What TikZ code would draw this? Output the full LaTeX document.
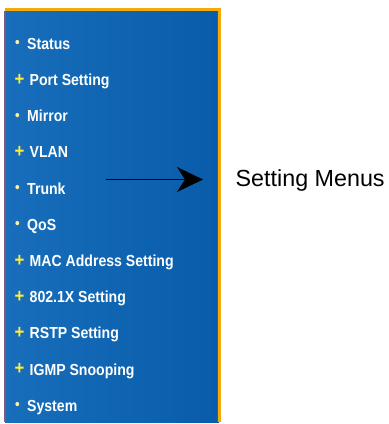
\documentclass[tikz,border=0pt]{standalone}
\usepackage{fontspec}
\setmainfont{Liberation Sans}
\newfontfamily\menufont[FakeStretch=0.88]{Liberation Sans Bold}
\usetikzlibrary{arrows.meta}
\definecolor{panelblue}{RGB}{8,92,170}
\definecolor{panelblueL}{RGB}{24,110,186}
\definecolor{edgeorange}{RGB}{245,170,10}
\definecolor{plusyellow}{RGB}{255,236,60}
\definecolor{dotyellow}{RGB}{250,240,160}
\tikzset{
  menuitem/.style={anchor=base west, inner sep=0pt, text=white, font=\menufont\fontsize{16bp}{16bp}\selectfont},
  plusmark/.style={anchor=base, inner sep=0pt, text=plusyellow, font=\menufont\fontsize{19bp}{19bp}\selectfont},
  dotmark/.style={anchor=base, inner sep=0pt, text=dotyellow, font=\menufont\fontsize{15bp}{15bp}\selectfont},
  pointer/.style={-{Stealth[length=26bp,width=25bp,inset=8bp]}, line width=1.1bp, black},
  caption/.style={anchor=base west, inner sep=0pt, text=black, font=\fontsize{23.3bp}{23.3bp}\selectfont}
}
\begin{document}
\begin{tikzpicture}[x=1bp,y=-1bp]
\useasboundingbox (0,0) rectangle (389,424);
\fill[white] (0,0) rectangle (389,424);
% panel
\shade[left color=panelblueL, right color=panelblue] (5,8) rectangle (219,422);
\fill[edgeorange] (5,7.5) rectangle (221,10.5);
\fill[edgeorange] (218,7.5) rectangle (221,422);
\fill[black!45!edgeorange!60!panelblue] (216.5,10.5) rectangle (218,422);
\fill[gray!70!violet] (4.5,10.5) rectangle (6,422);
% menu items
\foreach \i/\t/\k in {0/Status/d,1/Port Setting/p,2/Mirror/d,3/VLAN/p,4/Trunk/d,5/QoS/d,6/MAC Address Setting/p,7/802.1X Setting/p,8/RSTP Setting/p,9/IGMP Snooping/p,10/System/d}{
  \pgfmathsetmacro{\yy}{43+36.2*\i}
  \if\k d
    \node[dotmark] (b\i) at (17.5,\yy+4.6) {•};
    \node[menuitem] (m\i) at (27,\yy+6.3) {\t};
  \else
    \node[plusmark] (b\i) at (19.5,\yy+5.9) {+};
    \node[menuitem] (m\i) at (29.5,\yy+6.3) {\t};
  \fi
}
% arrow and caption
\coordinate (astart) at (106,179.5);
\coordinate (aend) at (203,179.5);
\draw[pointer] (astart) -- (aend);
\node[caption] (lbl) at (235.5,186.5) {Setting Menus};
\end{tikzpicture}
\end{document}
